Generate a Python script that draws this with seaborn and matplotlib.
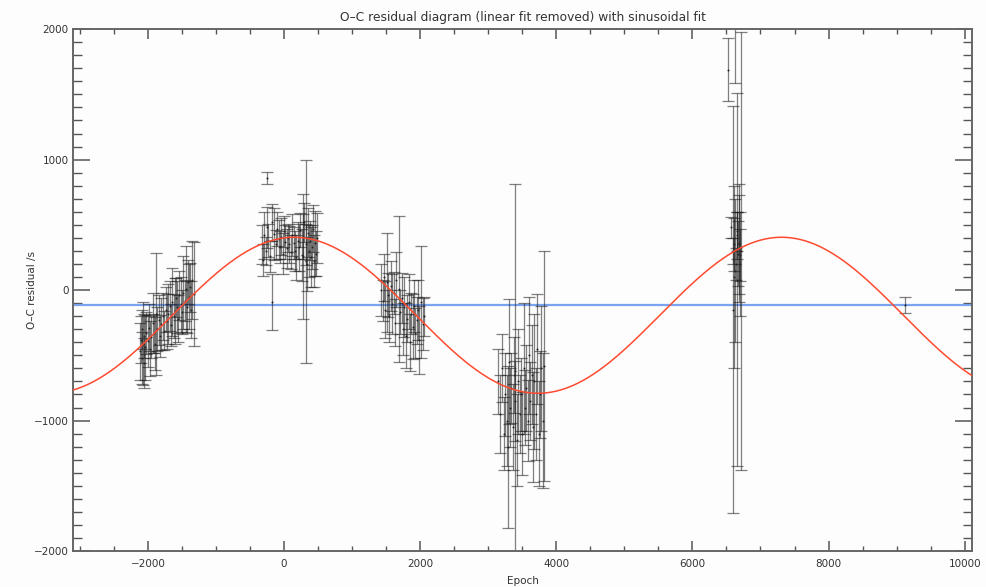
import numpy as np
import pandas as pd
import matplotlib
matplotlib.use("Agg")
import matplotlib.pyplot as plt
import seaborn as sns
from matplotlib.ticker import MultipleLocator

# ---------------- data ----------------
# cluster 1
c1_epoch = [-2120, -2105, -2090, -2080, -2070, -2060, -2050, -2035, -2020, -2000, -1985, -1970,
            -1950, -1930, -1910, -1890, -1880, -1860, -1840, -1820, -1800, -1780, -1760, -1740,
            -1720, -1700, -1680, -1660, -1640, -1620, -1600, -1585, -1570, -1555, -1540, -1520,
            -1500, -1480, -1460, -1445, -1430, -1415, -1400, -1385, -1370, -1355, -1320]
c1_oc = [-470, -380, -520, -300, -410, -350, -560, -440, -330, -390, -290, -450,
         -360, -250, -330, -410, -180, -300, -230, -350, -260, -200, -310, -150,
         -240, -180, -120, -270, -90, -200, -160, -60, -130, -220, -40, -110,
         -170, -20, -80, 10, -130, 60, -50, 20, -150, 80, -30]
c1_err = [220, 180, 200, 150, 320, 170, 190, 250, 160, 200, 180, 210,
          160, 230, 150, 200, 468, 170, 190, 160, 200, 180, 150, 170,
          210, 230, 190, 160, 260, 170, 250, 150, 200, 180, 190, 210,
          170, 280, 160, 330, 200, 170, 250, 190, 220, 300, 396]

# cluster 2
c2_epoch = [-330, -310, -290, -270, -250, -230, -205, -180, -150, -120, -100, -80, -60, -40,
            -20, 0, 20, 40, 60, 80, 100, 120, 140, 160, 180, 200, 220, 240, 260, 280, 300,
            320, 335, 350, 365, 380, 395, 410, 425, 440, 455, 470, 485,
            -255, -180, 275, 324]
c2_oc = [350, 230, 420, 300, 480, 380, 260, 520, 430, 350, 470, 390, 330, 410,
         280, 450, 370, 320, 400, 350, 290, 420, 360, 300, 250, 380, 330, 460, 270, 410, 520,
         350, 200, 440, 300, 380, 250, 330, 470, 220, 360, 280, 400,
         860, -90, 260, 220]
c2_err = [150, 120, 180, 110, 160, 130, 120, 140, 200, 110, 130, 150, 120, 140,
          160, 120, 130, 150, 110, 140, 130, 160, 120, 150, 170, 140, 180, 130, 200, 170, 150,
          160, 210, 190, 200, 150, 230, 170, 180, 200, 250, 170, 190,
          45, 215, 480, 780]

# cluster 3
c3_epoch = [1430, 1450, 1470, 1490, 1510, 1530, 1550, 1570, 1590, 1610, 1630, 1650, 1690,
            1710, 1730, 1750, 1770, 1790, 1810, 1830, 1850, 1870, 1890, 1910, 1930, 1950,
            1970, 1990, 2015, 2040, 2060]
c3_oc = [0, -80, 100, -150, 60, -40, -200, 30, -110, -20, -250, 80, 10,
         -170, -60, -300, -130, -350, -220, -90, -400, -180, -280, -120, -330, -230,
         -150, -380, -90, -260, -200]
c3_err = [200, 160, 180, 220, 380, 170, 200, 190, 230, 160, 180, 210, 560,
          170, 190, 200, 230, 250, 180, 210, 220, 160, 250, 200, 190, 180,
          230, 260, 430, 200, 150]

# cluster 4
c4_epoch = [3150, 3175, 3200, 3225, 3250, 3270, 3285, 3300, 3320, 3340, 3360, 3380, 3395,
            3400, 3420, 3440, 3460, 3480, 3500, 3520, 3540, 3560, 3580, 3600, 3620, 3640,
            3660, 3680, 3700, 3720, 3740, 3760, 3780, 3800, 3815]
c4_oc = [-700, -950, -600, -1100, -800, -1000, -1200, -550, -900, -750, -1050, -650, -850,
         -620, -1150, -700, -950, -800, -1100, -600, -900, -750, -1000, -500, -850, -650,
         -1050, -700, -950, -450, -1100, -800, -600, -1000, -580]
c4_err = [250, 300, 260, 280, 320, 350, 620, 480, 300, 270, 330, 290, 310,
          1430, 350, 400, 300, 280, 320, 500, 290, 330, 310, 450, 300, 380,
          420, 520, 350, 420, 400, 330, 480, 520, 880]

# cluster 5
c5_epoch = [6520, 6622, 6598, 6657, 6716, 6590, 6615, 6640, 6660, 6675, 6690, 6705,
            6630, 6650, 6700, 6610, 6560, 6685]
c5_oc = [1690, 2200, -150, 78, 300, 300, 350, 200, 420, 280, 350, 270,
         150, 450, 200, 100, 480, 360]
c5_err = [240, 610, 1560, 1430, 1680, 100, 200, 120, 180, 250, 380, 200,
          550, 150, 400, 700, 80, 450]

# single late point
c6_epoch = [9122]
c6_oc = [-115]
c6_err = [59]

# fitted sinusoid parameters and mean level
fit_offset = -193.0
fit_amplitude = 598.0
fit_period = 7160.0
fit_peak_epoch = 150.0
mean_level = -115.0

title = "O\u2013C residual diagram (linear fit removed) with sinusoidal fit"
xlabel = "Epoch"
ylabel = "O\u2013C residual /s"

# ---------------- build tables ----------------
epoch = c1_epoch + c2_epoch + c3_epoch + c4_epoch + c5_epoch + c6_epoch
oc = c1_oc + c2_oc + c3_oc + c4_oc + c5_oc + c6_oc
err = c1_err + c2_err + c3_err + c4_err + c5_err + c6_err
df = pd.DataFrame({"epoch": epoch, "oc": oc, "err": err})

xfit = np.linspace(-3100, 10110, 800)
fit_df = pd.DataFrame({
    "epoch": xfit,
    "oc": fit_offset + fit_amplitude * np.cos(2 * np.pi * (xfit - fit_peak_epoch) / fit_period),
})

# ---------------- plot ----------------
sns.set_style("white")
plt.rcParams["font.family"] = ["DejaVu Sans"]
fig = plt.figure(figsize=(9.86, 5.87), dpi=100)
fig.patch.set_facecolor("#fcfdfc")
ax = fig.add_axes([0.074, 0.0613, 0.912, 0.889])
ax.set_facecolor("#fcfdfc")

ax.errorbar(df["epoch"], df["oc"], yerr=df["err"], fmt="none",
            ecolor="#1a1a1a", elinewidth=0.9, capsize=4.0, capthick=0.9,
            alpha=0.55, zorder=2)
sns.scatterplot(data=df, x="epoch", y="oc", ax=ax, s=2, color="#222222",
                edgecolor=None, linewidth=0, zorder=3)

ax.axhline(mean_level, color="#7aa4f0", lw=1.6, zorder=1)
sns.lineplot(data=fit_df, x="epoch", y="oc", ax=ax, color="#ff4a30", lw=1.1, zorder=4)

ax.set_xlim(-3100, 10110)
ax.set_ylim(-2000, 2000)
ax.xaxis.set_major_locator(MultipleLocator(2000))
ax.xaxis.set_minor_locator(MultipleLocator(500))
ax.yaxis.set_major_locator(MultipleLocator(1000))
ax.yaxis.set_minor_locator(MultipleLocator(100))

tc = "#555555"
for s in ax.spines.values():
    s.set_color("#666666")
    s.set_linewidth(1.4)
ax.tick_params(axis="x", which="major", direction="in", length=7.5, width=1.1,
               color=tc, top=True, bottom=True, labelsize=7.5, labelcolor="#333333", pad=6)
ax.tick_params(axis="x", which="minor", direction="in", length=3.8, width=1.0,
               color=tc, top=True, bottom=True)
ax.tick_params(axis="y", which="major", direction="in", length=12.5, width=1.1,
               color=tc, left=True, right=True, labelsize=7.5, labelcolor="#333333", pad=3)
ax.tick_params(axis="y", which="minor", direction="in", length=6.3, width=1.0,
               color=tc, left=True, right=True)

ax.set_title(title, fontsize=8.8, color="#333333", pad=6)
ax.set_xlabel(xlabel, fontsize=7.5, color="#333333", labelpad=5)
ax.set_ylabel(ylabel, fontsize=7.5, color="#333333", va="center")
ax.yaxis.set_label_coords(-0.046, 0.5)

fig.savefig("out.png", dpi=100, facecolor=fig.get_facecolor())
